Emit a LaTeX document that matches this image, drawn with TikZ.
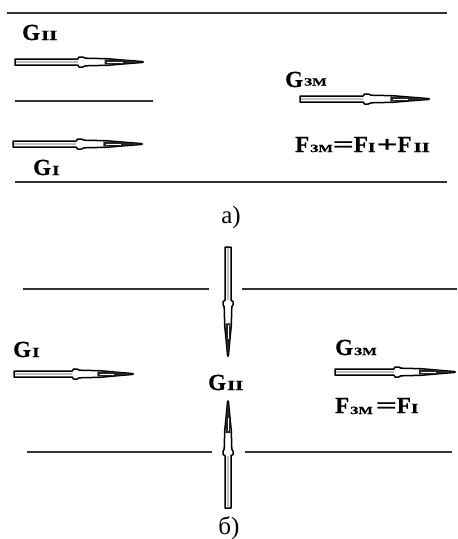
\documentclass[tikz,border=0pt]{standalone}
\usepackage{fontspec}
\usepackage{graphicx}
\setmainfont{Liberation Serif}
\newfontfamily\heavy[FakeBold=0.8]{Liberation Serif}
\newcommand\bigG{{\fontsize{23}{23}\selectfont\heavy\bfseries G}}
\newcommand\bigF{{\fontsize{23}{23}\selectfont\heavy\bfseries F}}
\newcommand\sbZM{\scalebox{1.4}[1]{\fontsize{11}{11}\selectfont\heavy\bfseries ЗМ}}
\newcommand\sbI{\scalebox{1.4}[1]{\fontsize{14}{14}\selectfont\heavy\bfseries I}}
\newcommand\sbII{\scalebox{1.5}[1]{\fontsize{14}{14}\selectfont\heavy\bfseries II}}
\newcommand\eqsym{\scalebox{1.6}[1]{\fontsize{23}{23}\selectfont\heavy\bfseries =}}
\newcommand\plsym{\scalebox{1.6}[1]{\fontsize{23}{23}\selectfont\heavy\bfseries +}}
\newcommand\rodarrow[4]{%
  \begin{scope}[shift={(#1,#2)},rotate=#3]
    \filldraw[rodout] (0,-3) -- ({0.49*#4},-3) -- ({0.50*#4},-5) -- ({0.53*#4},-5)
      -- ({0.55*#4},-3.8) -- ({0.72*#4},-3.3) -- ({0.86*#4},-1.8) -- (#4,-0.4)
      -- (#4,0.4) -- ({0.86*#4},1.8) -- ({0.72*#4},3.3) -- ({0.55*#4},3.8)
      -- ({0.53*#4},5) -- ({0.50*#4},5) -- ({0.49*#4},3) -- (0,3) -- cycle;
    \draw[rodcore] (1,0) -- ({0.49*#4},0);
    \fill[roddark] ({0.70*#4},-2.6) -- ({0.86*#4},-1.5) -- (#4,0) -- ({0.86*#4},1.5) -- ({0.70*#4},2.6) -- cycle;
    \draw[white,line width=0.6] ({0.72*#4},0) -- ({0.84*#4},0);
  \end{scope}}
\begin{document}
\begin{tikzpicture}[x=1pt,y=-1pt,
  wall/.style={draw=black!80,line width=1.9pt},
  rodout/.style={fill=white,draw=black,line width=1.5pt,line join=round},
  rodcore/.style={gray!50,line width=1.4pt},
  roddark/.style={fill=black!85},
  lab/.style={inner sep=0pt,anchor=base west},
  partlabel/.style={inner sep=0pt,anchor=base,font=\fontsize{25}{25}\selectfont}]
\useasboundingbox (0,0) rectangle (458,539);
% ---- part a
\draw[wall] (7,13) -- (447,13);
\draw[wall] (15,101) -- (153,101);
\draw[wall] (15,182) -- (447,182);
\rodarrow{15}{62}{0}{128}
\rodarrow{13}{144}{0}{129}
\rodarrow{300}{99}{0}{129}
\node[lab] (g2a) at (22,40) {\bigG\kern1pt\sbII};
\node[lab] (g1a) at (33,175) {\bigG\kern1pt\sbI};
\node[lab] (gza) at (285,87) {\bigG\kern1pt\raisebox{1.5pt}{\sbZM}};
\node[lab] (fa) at (295,152) {\bigF\kern1pt\sbZM\eqsym\bigF\sbI\kern1pt\plsym\bigF\kern2pt\sbII};
\node[partlabel] (capa) at (231,223) {а)};
% ---- part b
\draw[wall] (23,289) -- (209,289);
\draw[wall] (242,289) -- (457,289);
\draw[wall] (27,452) -- (212,452);
\draw[wall] (245,452) -- (452,452);
\rodarrow{228}{247}{-90}{109}
\rodarrow{228}{508}{90}{107}
\rodarrow{14}{374}{0}{119}
\rodarrow{335}{372}{0}{120}
\node[lab] (g1b) at (13,357) {\bigG\kern1pt\sbI};
\node[lab] (g2b) at (208,390) {\bigG\kern1pt\sbII};
\node[lab] (gzb) at (335,355) {\bigG\kern1pt\sbZM};
\node[lab] (fb) at (335,413) {\bigF\kern1pt\raisebox{-1pt}{\sbZM}\kern3pt\eqsym\bigF\sbI};
\node[partlabel] (capb) at (229,534) {б)};
\end{tikzpicture}
\end{document}
